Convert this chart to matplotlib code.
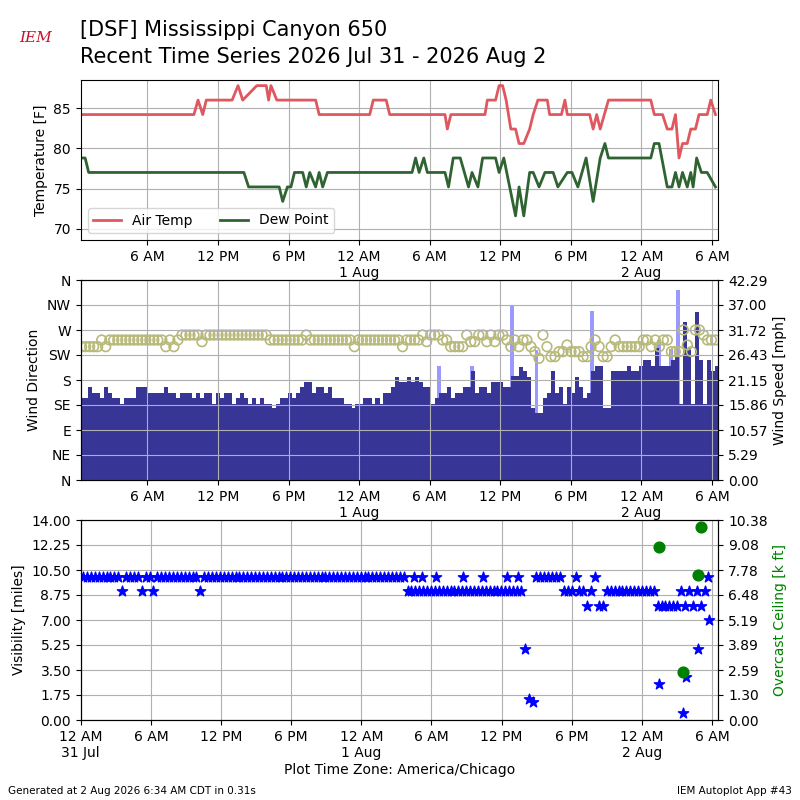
import matplotlib
matplotlib.use("Agg")
import matplotlib.pyplot as plt
import numpy as np

# hours since 31 Jul 00:00 CDT
temp_h = [0.33, 9.95, 10.3, 10.7, 11.0, 13.2, 13.7, 14.1, 15.3, 16.1, 16.3, 16.5, 17.0,
          20.3, 20.6, 24.9, 25.2, 26.3, 26.6, 31.3, 31.5, 31.8, 34.7, 34.9, 35.6, 35.9,
          36.2, 36.5, 36.9, 37.3, 37.6, 38.0, 38.5, 38.8, 39.2, 40.0, 40.2, 41.2, 41.5,
          41.7, 43.6, 43.9, 44.2, 44.5, 45.2, 48.8, 49.1, 49.8, 50.2, 50.6, 50.9, 51.2,
          51.5, 51.9, 52.2, 52.6, 52.9, 53.6, 53.9, 54.3]
temp_f = [84.2, 84.2, 86.0, 84.2, 86.0, 86.0, 87.8, 86.0, 87.8, 87.8, 86.0, 87.8, 86.0,
          86.0, 84.2, 84.2, 86.0, 86.0, 84.2, 84.2, 82.4, 84.2, 84.2, 86.0, 86.0, 87.8,
          87.8, 86.0, 82.4, 82.4, 80.6, 80.6, 82.4, 84.2, 86.0, 86.0, 84.2, 84.2, 86.0,
          84.2, 84.2, 82.4, 84.2, 82.4, 86.0, 86.0, 84.2, 84.2, 82.4, 82.4, 84.2, 78.8,
          80.6, 80.6, 82.4, 82.4, 84.2, 84.2, 86.0, 84.2]

dew_h = [0.33, 0.7, 1.0, 14.2, 14.6, 17.2, 17.5, 17.9, 18.2, 18.5, 19.2, 19.5, 19.8, 20.3,
         20.6, 20.9, 21.3, 28.5, 28.8, 29.1, 29.5, 29.8, 31.3, 31.6, 32.0, 32.6, 33.3, 33.6,
         34.1, 34.5, 35.6, 35.9, 36.3, 36.8, 37.3, 37.6, 38.0, 38.5, 38.8, 39.3, 39.8,
         40.5, 40.9, 41.7, 42.1, 42.6, 43.3, 43.9, 44.5, 44.9, 45.2, 48.8, 49.1, 49.5,
         50.2, 50.6, 50.9, 51.2, 51.5, 51.9, 52.2, 52.4, 52.7, 53.1, 53.6, 54.3]
dew_f = [78.8, 78.8, 77.0, 77.0, 75.2, 75.2, 73.4, 75.2, 75.2, 77.0, 77.0, 75.2, 77.0, 75.2,
         77.0, 75.2, 77.0, 77.0, 78.8, 77.0, 78.8, 77.0, 77.0, 75.2, 78.8, 78.8, 75.2, 77.0,
         75.2, 78.8, 78.8, 77.0, 78.8, 75.2, 71.6, 75.2, 71.6, 77.0, 77.0, 75.2, 77.0,
         77.0, 75.2, 77.0, 77.0, 75.2, 78.8, 73.4, 78.8, 80.6, 78.8, 78.8, 80.6, 80.6,
         75.2, 75.2, 77.0, 75.2, 77.0, 75.2, 77.0, 75.2, 78.8, 77.0, 77.0, 75.2]

# wind speed [mph], (value, number of consecutive obs)
spd_runs = [(17.3, 2), (19.6, 1), (18.3, 2), (17.3, 1), (19.6, 1), (18.3, 1), (17.3, 2), (16.1, 1),
            (17.3, 3), (19.6, 3), (18.3, 4), (19.6, 1), (18.3, 2), (17.3, 1), (18.3, 3), (17.3, 1),
            (18.3, 1), (17.3, 1), (18.3, 2), (16.1, 1), (18.3, 1), (17.3, 1), (18.3, 2), (16.1, 1),
            (17.3, 1), (18.3, 1), (17.3, 1), (16.1, 1), (17.3, 1), (16.1, 1), (17.3, 1), (16.1, 2),
            (15.2, 1), (16.1, 1), (17.3, 2), (18.3, 1), (17.3, 1), (18.3, 1), (19.6, 1), (20.8, 2),
            (18.3, 1), (19.6, 2), (18.3, 1), (19.6, 1), (17.3, 3), (16.1, 2), (15.2, 1), (16.1, 2),
            (17.3, 2), (16.1, 1), (17.3, 1), (16.1, 1), (18.3, 2), (19.6, 1), (21.7, 1), (20.8, 2),
            (21.7, 1), (20.8, 1), (21.7, 1), (20.8, 1), (19.6, 2), (16.1, 1), (17.3, 1), (18.3, 2),
            (19.6, 1), (17.3, 1), (18.3, 2), (19.6, 2), (23.1, 1), (18.3, 1), (19.6, 2), (18.3, 1),
            (20.8, 3), (19.6, 2), (21.9, 2), (23.9, 1), (23.1, 1), (21.7, 1), (15.2, 1), (14.1, 2),
            (17.3, 1), (18.3, 1), (23.1, 1), (18.3, 1), (19.6, 1), (16.1, 1), (19.6, 1), (18.3, 1),
            (21.7, 1), (19.6, 1), (17.3, 1), (18.3, 1), (23.1, 1), (24.1, 2), (15.2, 2), (23.1, 4),
            (24.1, 1), (23.1, 2), (24.1, 1), (25.4, 2), (24.1, 1), (28.0, 1), (24.1, 3), (25.4, 1),
            (26.4, 1), (16.1, 1), (33.5, 1), (28.0, 1), (16.1, 1), (35.6, 1), (25.4, 1), (16.1, 1),
            (25.4, 1), (23.1, 1), (24.1, 1)]
gust_h = [30.8, 33.6, 37.0, 38.2, 39.1, 43.8, 49.5, 50.5, 51.1]
gust_mph = [24.1, 24.1, 36.8, 21.1, 27.5, 35.8, 29.5, 27.8, 40.1]

# wind direction [deg], (value, number of consecutive obs)
dir_runs = [(240, 5), (252, 1), (240, 1), (252, 14), (240, 1), (252, 1), (240, 1), (252, 1), (261, 5),
            (249, 1), (261, 16), (252, 9), (261, 1), (252, 11), (240, 1), (252, 11), (240, 1), (252, 4),
            (261, 1), (249, 1), (261, 3), (252, 2), (240, 4), (261, 1), (249, 2), (261, 2), (249, 1),
            (261, 1), (249, 1), (261, 2), (252, 1), (240, 1), (252, 1), (240, 1), (252, 2), (240, 1),
            (231, 1), (219, 1), (261, 1), (240, 1), (222, 2), (231, 2), (243, 1), (231, 3), (222, 2),
            (240, 1), (252, 1), (240, 1), (222, 2), (240, 1), (252, 1), (240, 6), (252, 2), (240, 1),
            (252, 1), (240, 1), (252, 2), (231, 3), (270, 1), (243, 1), (231, 1), (270, 2), (261, 1),
            (252, 3)]

# visibility [miles], (value, number of 20-minute obs) from 00:12
vis_runs = [(10, 10), (9, 1), (10, 4), (9, 1), (10, 2), (9, 1), (10, 11), (9, 1), (10, 52),
            (9, 30), (5, 1), (1.5, 1), (1.25, 1), (10, 7), (9, 3), (10, 1), (9, 2), (8, 1), (9, 1),
            (10, 1), (8, 2), (9, 13), (8, 6), (9, 1), (8, 1), (9, 1), (8, 1), (9, 1), (8, 1), (9, 1),
            (10, 1)]
vis_extra_h = [28.5, 29.2, 30.4, 32.7, 34.4, 36.5, 37.4, 49.5, 51.5, 51.8, 52.8, 53.75]
vis_extra = [10, 10, 10, 10, 10, 10, 10, 2.5, 0.5, 3.0, 5.0, 7.0]
ceil_h = [49.5, 51.5, 52.8, 53.1]
ceil_kft = [8.96, 2.49, 7.5, 10.0]

spd_ticks = ['0.00', '5.29', '10.57', '15.86', '21.15', '26.43', '31.72', '37.00', '42.29']
ceil_ticks = ['0.00', '1.30', '2.59', '3.89', '5.19', '6.48', '7.78', '9.08', '10.38']


def expand(runs, start, end):
    vals = np.concatenate([[v] * n for v, n in runs])
    return np.linspace(start, end, len(vals)), vals


ticks = [6, 12, 18, 24, 30, 36, 42, 48, 54]
labels = ['6 AM', '12 PM', '6 PM', '12 AM\n1 Aug', '6 AM', '12 PM', '6 PM', '12 AM\n2 Aug', '6 AM']
xmax = 54.55

fig = plt.figure(figsize=(8, 8), dpi=100)
ax1 = fig.add_axes([0.101, 0.70, 0.797, 0.20])
ax2 = fig.add_axes([0.101, 0.40, 0.797, 0.25])
ax3 = fig.add_axes([0.101, 0.10, 0.797, 0.25])

fig.text(0.1, 0.962, '[DSF] Mississippi Canyon 650', fontsize=15, va='center')
fig.text(0.1, 0.929, 'Recent Time Series 2026 Jul 31 - 2026 Aug 2', fontsize=15, va='center')
fig.text(0.045, 0.952, 'IEM', fontsize=11, color='#c8102e', style='italic',
         ha='center', va='center', family='serif')
fig.text(0.5, 0.032, 'Plot Time Zone: America/Chicago', ha='center', fontsize=10)
fig.text(0.01, 0.008, 'Generated at 2 Aug 2026 6:34 AM CDT in 0.31s', fontsize=7.5)
fig.text(0.99, 0.008, 'IEM Autoplot App #43', fontsize=7.5, ha='right')

# temperature
ax1.plot(temp_h, temp_f, color='#e0585f', lw=2, label='Air Temp')
ax1.plot(dew_h, dew_f, color='#2f6331', lw=2, label='Dew Point')
ax1.set_ylim(68.6, 88.5)
ax1.set_yticks([70, 75, 80, 85])
ax1.set_ylabel('Temperature [F]')
ax1.set_xlim(0.33, xmax)
ax1.set_xticks(ticks)
ax1.set_xticklabels(labels)
ax1.grid(True)
ax1.legend(loc='lower left', ncol=2)

# wind
ax2r = ax2.twinx()
sh, sv = expand(spd_runs, 0.45, 54.4)
dh, dv = expand(dir_runs, 0.4, 54.3)
ax2r.bar(gust_h, gust_mph, width=0.3, color='#9999ff', align='center', zorder=1)
ax2r.bar(sh, sv, width=0.35, color='#373596', align='center', zorder=2)
ax2r.scatter(dh, dv * 42.29 / 360.0, s=48, facecolors='none', edgecolors='#b8b97a',
             linewidths=1.2, zorder=3)
ax2r.set_ylim(0, 42.29)
ax2r.set_yticks(np.linspace(0, 42.29, 9))
ax2r.set_yticklabels(spd_ticks)
ax2r.set_ylabel('Wind Speed [mph]')
ax2.set_ylim(0, 360)
ax2.set_yticks(range(0, 361, 45))
ax2.set_yticklabels(['N', 'NE', 'E', 'SE', 'S', 'SW', 'W', 'NW', 'N'])
ax2.set_ylabel('Wind Direction')
ax2.set_xlim(0.33, xmax)
ax2.set_xticks(ticks)
ax2.set_xticklabels(labels)
ax2.grid(True)
ax2r.set_zorder(1)
ax2.set_zorder(2)
ax2.patch.set_visible(False)

# visibility / ceiling
ax3r = ax3.twinx()
vh, vv = expand(vis_runs, 0.2, 53.7)
ax3.scatter(vh, vv, marker='*', s=60, color='b', zorder=3)
ax3.scatter(vis_extra_h, vis_extra, marker='*', s=60, color='b', zorder=3)
ax3r.scatter(ceil_h, ceil_kft, s=60, color='g', zorder=4)
ax3.set_ylim(0, 14)
ax3.set_yticks(np.arange(0, 14.01, 1.75))
ax3.set_yticklabels(['%.2f' % v for v in np.arange(0, 14.01, 1.75)])
ax3.set_ylabel('Visibility [miles]')
ax3r.set_ylim(0, 10.38)
ax3r.set_yticks(np.linspace(0, 10.38, 9))
ax3r.set_yticklabels(ceil_ticks)
ax3r.set_ylabel('Overcast Ceiling [k ft]', color='g')
ax3.set_xlim(0, xmax)
ax3.set_xticks([0] + ticks)
ax3.set_xticklabels(['12 AM\n31 Jul'] + labels)
ax3.grid(True)

fig.savefig('out.png', dpi=100)
